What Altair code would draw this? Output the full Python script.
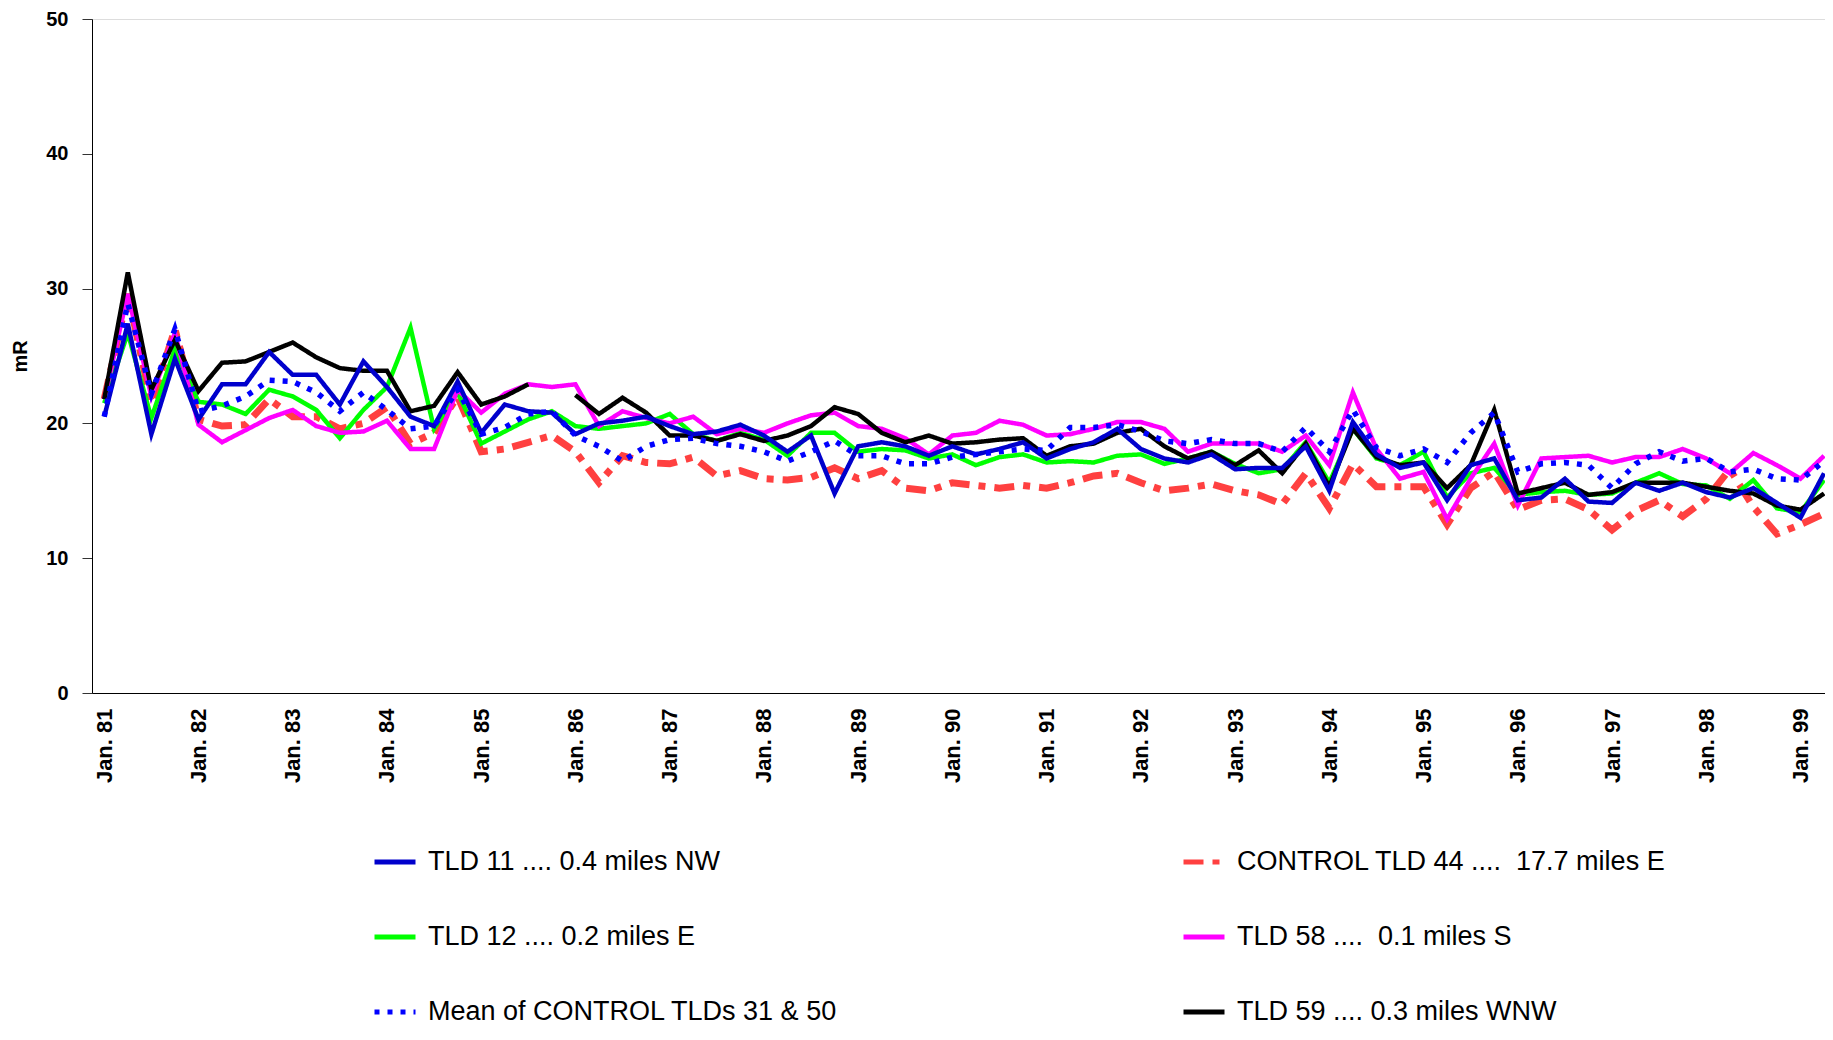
import altair as alt
import pandas as pd

# ---------------- data ----------------
tick_labels = ["Jan. 81", "Jan. 82", "Jan. 83", "Jan. 84", "Jan. 85", "Jan. 86", "Jan. 87",
               "Jan. 88", "Jan. 89", "Jan. 90", "Jan. 91", "Jan. 92", "Jan. 93", "Jan. 94",
               "Jan. 95", "Jan. 96", "Jan. 97", "Jan. 98", "Jan. 99"]

tld11 = [20.5, 27.4, 19.2, 24.8, 20.3, 22.9, 22.9, 25.3, 23.6, 23.6,
         21.4, 24.6, 22.7, 20.5, 19.8, 23.1, 19.3, 21.4, 20.9, 20.8,
         19.2, 20.0, 20.2, 20.5, 19.8, 19.2, 19.4, 19.9, 19.1, 17.9,
         19.1, 14.8, 18.3, 18.6, 18.3, 17.6, 18.3, 17.7, 18.1, 18.6,
         17.4, 18.1, 18.6, 19.6, 18.1, 17.4, 17.1, 17.7, 16.6, 16.7,
         16.7, 18.3, 15.0, 20.1, 17.7, 16.7, 17.1, 14.3, 16.9, 17.4,
         14.3, 14.5, 15.9, 14.2, 14.1, 15.6, 15.0, 15.6, 14.9, 14.5,
         15.2, 14.1, 13.0, 16.3]

tld12 = [21.5, 26.7, 20.4, 25.5, 21.6, 21.4, 20.7, 22.5, 22.0, 21.0,
         18.9, 21.0, 22.7, 27.1, 19.6, 22.3, 18.5, 19.4, 20.3, 20.9,
         19.8, 19.6, 19.8, 20.0, 20.7, 19.2, 18.7, 19.3, 18.8, 17.6,
         19.3, 19.3, 17.9, 18.1, 18.0, 17.4, 17.7, 16.9, 17.5, 17.7,
         17.1, 17.2, 17.1, 17.6, 17.7, 17.0, 17.4, 17.9, 17.0, 16.3,
         16.6, 18.6, 15.6, 19.6, 17.4, 16.9, 17.9, 14.5, 16.3, 16.7,
         14.7, 14.9, 15.0, 14.7, 14.8, 15.6, 16.3, 15.5, 15.4, 14.4,
         15.8, 13.7, 13.4, 15.8]

tld58 = [21.8, 29.6, 22.0, 26.7, 19.9, 18.6, 19.5, 20.4, 21.0, 19.8,
         19.3, 19.4, 20.2, 18.1, 18.1, 22.5, 20.8, 22.2, 22.9, 22.7,
         22.9, 19.8, 20.9, 20.4, 20.0, 20.5, 19.2, 19.6, 19.3, 20.0,
         20.6, 20.8, 19.8, 19.6, 18.9, 17.7, 19.1, 19.3, 20.2, 19.9,
         19.1, 19.2, 19.6, 20.1, 20.1, 19.6, 17.9, 18.5, 18.5, 18.5,
         17.9, 19.1, 16.9, 22.3, 18.1, 15.9, 16.4, 12.9, 15.9, 18.5,
         13.9, 17.4, 17.5, 17.6, 17.1, 17.5, 17.5, 18.1, 17.4, 16.3,
         17.8, 16.9, 15.9, 17.6]

tld59 = [21.8, 31.2, 22.5, 26.2, 22.4, 24.5, 24.6, 25.3, 26.0, 24.9,
         24.1, 23.9, 23.9, 20.9, 21.3, 23.8, 21.4, 22.0, 22.9, None,
         22.1, 20.7, 21.9, 20.8, 19.1, 19.1, 18.7, 19.2, 18.7, 19.1,
         19.8, 21.2, 20.7, 19.3, 18.6, 19.1, 18.5, 18.6, 18.8, 18.9,
         17.6, 18.3, 18.5, 19.3, 19.6, 18.3, 17.4, 17.9, 16.9, 18.0,
         16.3, 18.5, 15.3, 19.6, 17.5, 16.9, 17.1, 15.2, 16.9, 21.0,
         14.8, 15.2, 15.6, 14.7, 14.9, 15.6, 15.6, 15.6, 15.3, 15.0,
         14.8, 13.9, 13.6, 14.8]

control44 = [21.8, 29.6, 21.5, 27.0, 20.3, 19.8, 19.9, 21.8, 20.5, 20.5,
             19.6, 20.0, 21.2, 18.5, 19.3, 22.0, 17.9, 18.1, 18.6, 19.1,
             17.9, 15.6, 17.6, 17.1, 17.0, 17.5, 16.1, 16.5, 15.9, 15.8,
             16.0, 16.7, 15.9, 16.5, 15.2, 15.0, 15.6, 15.4, 15.2, 15.4,
             15.2, 15.6, 16.1, 16.3, 15.6, 15.0, 15.2, 15.5, 15.0, 14.7,
             14.0, 16.3, 13.7, 17.0, 15.3, 15.3, 15.3, 12.5, 15.2, 16.4,
             13.6, 14.3, 14.4, 13.6, 12.1, 13.5, 14.3, 13.1, 14.4, 16.6,
             13.8, 11.8, 12.5, 13.3]

control_mean = [20.5, 28.9, 22.2, 27.0, 20.9, 21.3, 22.0, 23.2, 23.1, 22.3,
                20.9, 22.3, 21.0, 19.6, 19.8, 22.5, 19.2, 19.7, 20.7, 20.9,
                19.1, 18.3, 17.2, 18.3, 18.8, 18.9, 18.5, 18.3, 17.9, 17.2,
                17.9, 18.7, 17.6, 17.6, 17.0, 17.0, 17.5, 17.7, 17.9, 18.1,
                18.0, 19.7, 19.7, 19.9, 19.4, 18.7, 18.5, 18.8, 18.5, 18.5,
                17.9, 19.7, 17.9, 21.0, 18.2, 17.6, 18.1, 17.1, 19.3, 20.8,
                16.4, 17.0, 17.1, 16.9, 15.2, 17.0, 17.9, 17.2, 17.4, 16.4,
                16.6, 15.9, 15.8, 17.2]

# legend order (column-major, 2 columns)
series_names = ["TLD 11 .... 0.4 miles NW",
                "TLD 12 .... 0.2 miles E",
                "Mean of CONTROL TLDs 31 & 50",
                "CONTROL TLD 44 ....\u00a0 17.7 miles E",
                "TLD 58 ....\u00a0 0.1 miles S",
                "TLD 59 .... 0.3 miles WNW"]
series_values = [tld11, tld12, control_mean, control44, tld58, tld59]
series_colors = ["#0000CC", "#00FF00", "#0000FF", "#FF4040", "#FF00FF", "#000000"]
series_dashes = [[1, 0], [1, 0], [5, 8], [20, 9, 7, 9], [1, 0], [1, 0]]
series_widths = [4.5, 4.5, 5.5, 7, 4.5, 4.5]
draw_order = [3, 1, 4, 5, 0, 2]  # bottom -> top

rows = []
for name, vals in zip(series_names, series_values):
    for q, v in enumerate(vals):
        rows.append({"q": q, "mR": v, "series": name})
df = pd.DataFrame(rows)

FONT = "Liberation Sans"

color_scale = alt.Scale(domain=series_names, range=series_colors)
dash_scale = alt.Scale(domain=series_names, range=series_dashes)

legend = alt.Legend(title=None, orient="none", legendX=280, legendY=820,
                    columns=2, columnPadding=335, rowPadding=39,
                    symbolType="stroke", symbolSize=1681, symbolStrokeWidth=5,
                    labelFontSize=27, labelFont=FONT, labelColor="black",
                    labelOffset=10, labelLimit=800, padding=0)

x_axis = alt.Axis(values=list(range(0, 73, 4)),
                  labelExpr="[" + ",".join("'" + t + "'" for t in tick_labels) + "][round(datum.value / 4)]",
                  labelAngle=270, labelFontSize=22, labelFontWeight="bold", labelFont=FONT,
                  labelColor="black", ticks=False, tickSize=0, labelPadding=15, grid=False,
                  domainColor="black", domainWidth=1, title=None, labelFlush=False,
                  labelOverlap=False)

y_axis = alt.Axis(values=[0, 10, 20, 30, 40, 50], title="mR", titleFontSize=20,
                  titleFontWeight="bold", titleFont=FONT, titleColor="black",
                  titlePadding=15, labelFontSize=20, labelFontWeight="bold",
                  labelFont=FONT, labelColor="black", tickSize=10, tickColor="#333333",
                  labelPadding=14, grid=False, domainColor="black", domainWidth=1)

base = alt.Chart(df)
layers = []
for idx in draw_order:
    name = series_names[idx]
    layers.append(
        base.transform_filter(alt.datum.series == name)
        .mark_line(strokeWidth=series_widths[idx], invalid="break-paths-show-domains", clip=False)
        .encode(
            x=alt.X("q:Q", scale=alt.Scale(domain=[-0.52, 73.04], nice=False, zero=False), axis=x_axis),
            y=alt.Y("mR:Q", scale=alt.Scale(domain=[0, 50], nice=False), axis=y_axis),
            color=alt.Color("series:N", scale=color_scale, legend=legend),
            strokeDash=alt.StrokeDash("series:N", scale=dash_scale, legend=legend),
        )
    )

chart = (
    alt.layer(*layers)
    .properties(width=1733, height=674,
                padding={"left": 84, "top": 11, "right": 0, "bottom": 337},
                autosize=alt.AutoSizeParams(type="none"))
    .configure_view(stroke="transparent")
    .configure(font=FONT)
)

chart.save("out.html", embed_options={"renderer": "svg", "actions": False})
